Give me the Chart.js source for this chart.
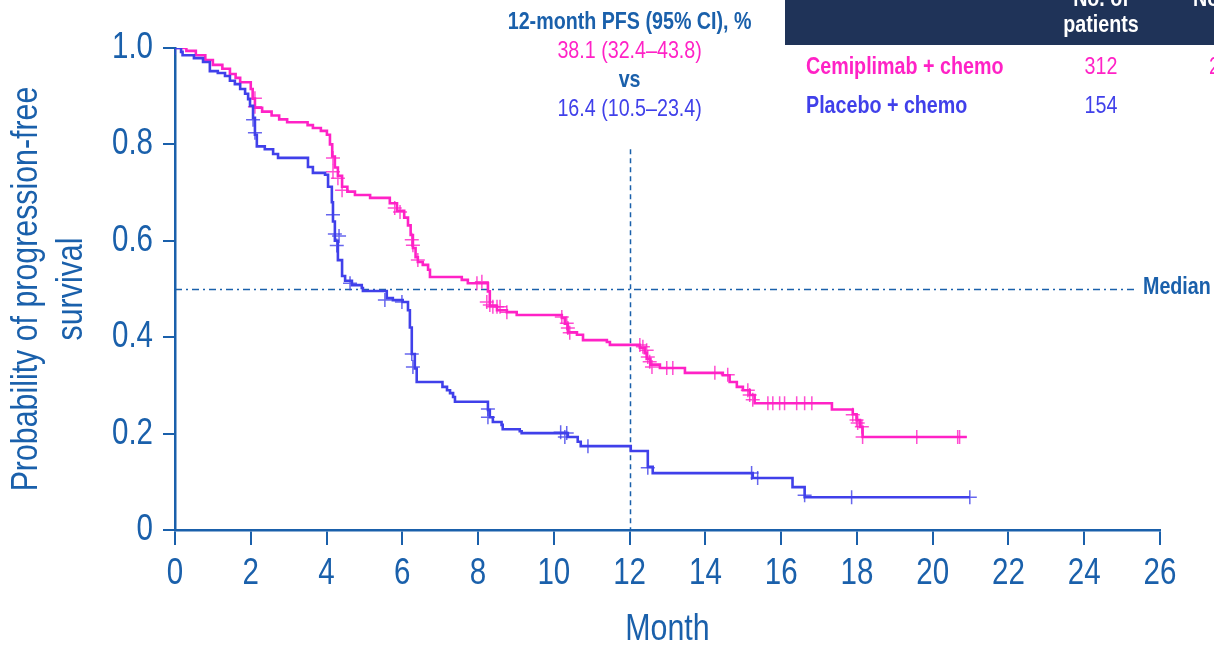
<!DOCTYPE html>
<html>
<head>
<meta charset="utf-8">
<title>Progression-free survival</title>
<script src="https://cdn.jsdelivr.net/npm/chart.js@4.4.1/dist/chart.umd.min.js"></script>
<style>
    html, body { margin: 0; padding: 0; background: #fff; }
    #wrap { width: 1214px; height: 646px; }
</style>
</head>
<body>
<div id="wrap"><canvas id="pfsChart" width="1214" height="646"></canvas></div>
<script>
// Kaplan-Meier steps: time of drop (months) and survival after the drop
const cemiTimes = [0, 0.30, 0.55, 0.80, 1.00, 1.25, 1.45, 1.60, 1.72, 2.00, 2.05, 2.11, 2.30, 2.55, 2.75, 2.96, 3.50, 3.64, 3.85, 4.01, 4.09, 4.15, 4.22, 4.30, 4.41, 4.55, 4.75, 5.15, 5.67, 5.86, 6.05, 6.15, 6.22, 6.28, 6.35, 6.41, 6.54, 6.68, 6.73, 7.57, 7.73, 8.26, 8.31, 8.50, 8.76, 9.02, 10.21, 10.29, 10.37, 10.61, 10.77, 11.40, 11.48, 12.27, 12.40, 12.45, 12.55, 12.80, 13.46, 14.46, 14.64, 14.83, 14.99, 15.17, 15.30, 17.34, 17.89, 17.99, 18.08, 18.15, 20.90];
const cemiSurv  = [1.0, 0.994, 0.985, 0.975, 0.965, 0.957, 0.946, 0.938, 0.929, 0.915, 0.895, 0.876, 0.868, 0.860, 0.852, 0.846, 0.840, 0.834, 0.828, 0.820, 0.800, 0.775, 0.752, 0.735, 0.712, 0.702, 0.695, 0.689, 0.678, 0.662, 0.648, 0.632, 0.612, 0.585, 0.566, 0.556, 0.550, 0.540, 0.525, 0.519, 0.512, 0.495, 0.465, 0.456, 0.452, 0.446, 0.440, 0.428, 0.410, 0.405, 0.394, 0.390, 0.384, 0.378, 0.367, 0.355, 0.343, 0.336, 0.326, 0.321, 0.307, 0.297, 0.290, 0.280, 0.263, 0.250, 0.240, 0.228, 0.214, 0.193, 0.193];

const placTimes = [0, 0.16, 0.20, 0.50, 0.74, 0.92, 1.13, 1.32, 1.45, 1.58, 1.72, 1.85, 1.93, 1.98, 2.06, 2.11, 2.16, 2.37, 2.59, 2.72, 3.51, 3.64, 3.96, 4.04, 4.14, 4.17, 4.22, 4.30, 4.41, 4.49, 4.67, 4.93, 4.96, 5.59, 5.75, 6.01, 6.15, 6.20, 6.25, 6.33, 6.38, 7.06, 7.18, 7.26, 7.34, 7.39, 8.26, 8.31, 8.39, 8.62, 8.65, 9.10, 9.15, 10.37, 10.63, 10.71, 12.03, 12.48, 12.61, 15.25, 16.30, 16.62, 20.98];
const placSurv  = [1.0, 0.992, 0.985, 0.979, 0.971, 0.952, 0.948, 0.942, 0.932, 0.925, 0.915, 0.905, 0.894, 0.880, 0.855, 0.820, 0.796, 0.790, 0.780, 0.772, 0.753, 0.741, 0.737, 0.712, 0.680, 0.640, 0.600, 0.560, 0.527, 0.517, 0.508, 0.502, 0.496, 0.481, 0.477, 0.473, 0.456, 0.420, 0.365, 0.335, 0.307, 0.297, 0.290, 0.284, 0.276, 0.266, 0.249, 0.234, 0.224, 0.218, 0.209, 0.205, 0.201, 0.193, 0.183, 0.174, 0.164, 0.131, 0.118, 0.108, 0.089, 0.068, 0.068];

// censor marks
const cemiCensorT = [2.11, 2.11, 4.17, 4.17, 4.30, 4.41, 5.80, 5.94, 6.25, 6.28, 6.41, 7.97, 8.10, 8.23, 8.31, 8.39, 8.50, 8.58, 8.76, 10.21, 10.34, 10.37, 10.42, 12.27, 12.35, 12.45, 12.48, 12.53, 12.59, 12.98, 13.14, 14.25, 14.59, 15.12, 15.17, 15.25, 15.65, 15.78, 15.96, 16.09, 16.41, 16.62, 16.81, 17.89, 17.99, 18.02, 18.13, 18.15, 19.58, 20.66, 20.71];
const cemiCensorS = [0.896, 0.878, 0.772, 0.743, 0.730, 0.705, 0.668, 0.660, 0.602, 0.591, 0.560, 0.512, 0.515, 0.473, 0.467, 0.463, 0.463, 0.463, 0.452, 0.442, 0.429, 0.419, 0.409, 0.384, 0.380, 0.373, 0.359, 0.349, 0.338, 0.336, 0.336, 0.326, 0.322, 0.290, 0.280, 0.270, 0.263, 0.263, 0.263, 0.263, 0.263, 0.263, 0.263, 0.239, 0.228, 0.222, 0.214, 0.193, 0.193, 0.193, 0.193];

const placCensorT = [0, 2.06, 2.11, 4.17, 4.22, 4.33, 4.27, 4.62, 5.54, 5.99, 6.25, 6.28, 8.26, 8.26, 10.18, 10.34, 10.29, 10.90, 12.48, 15.22, 15.38, 16.62, 17.86, 20.98];
const placCensorS = [1.0, 0.851, 0.824, 0.654, 0.614, 0.610, 0.590, 0.512, 0.477, 0.473, 0.365, 0.338, 0.251, 0.234, 0.203, 0.201, 0.193, 0.174, 0.129, 0.118, 0.108, 0.072, 0.068, 0.068];

const xTickStep = 2;
const yTickStep = 0.2;
const landmarkMonth = 12;
const landmarkTop = 0.79;
const medianLevel = 0.5;

const pfsHeader = '12-month PFS (95% CI), %';
const cemiPfs = '38.1 (32.4\u201343.8)';
const placPfs = '16.4 (10.5\u201323.4)';
const armNames = ['Cemiplimab + chemo', 'Placebo + chemo'];
const armPatients = ['312', '154'];

const FONT = "'Liberation Sans', Arial, sans-serif";
const AXIS_BLUE = '#1a60ab';
const PINK = '#ff22c6';
const PURPLE = '#4040ea';
const NAVY = '#1f3358';
// the original uses a narrow face; squeeze the regular one horizontally
const NARROW = 0.82;

const toPoints = (xs, ys) => xs.map((t, i) => ({ x: t, y: ys[i] }));

const referenceLines = {
    id: 'referenceLines',
    beforeDatasetsDraw(chart) {
        const { ctx, scales: { x, y } } = chart;
        ctx.save();
        ctx.strokeStyle = AXIS_BLUE;

        // median line, dash-dot
        const my = Math.round(y.getPixelForValue(medianLevel)) + 0.5;
        ctx.lineWidth = 1.4;
        ctx.setLineDash([7, 4, 2, 4]);
        ctx.beginPath();
        ctx.moveTo(x.left, my);
        ctx.lineTo(chart.width - 78, my);
        ctx.stroke();

        // 12-month landmark
        const lx = Math.round(x.getPixelForValue(landmarkMonth)) + 0.5;
        ctx.lineWidth = 1.5;
        ctx.setLineDash([5, 4]);
        ctx.beginPath();
        ctx.moveTo(lx, y.getPixelForValue(landmarkTop));
        ctx.lineTo(lx, y.bottom);
        ctx.stroke();
        ctx.restore();
    }
};

const annotations = {
    id: 'annotations',
    afterDraw(chart) {
        const { ctx, scales: { x, y } } = chart;
        const cx = x.getPixelForValue(landmarkMonth);
        ctx.save();
        ctx.textBaseline = 'middle';

        // 12-month PFS block
        ctx.textAlign = 'center';
        ctx.font = `bold 24px ${FONT}`;
        ctx.fillStyle = AXIS_BLUE;
        ctx.fillText(pfsHeader, cx, 22);
        ctx.font = `24px ${FONT}`;
        ctx.fillStyle = PINK;
        ctx.fillText(cemiPfs, cx, 51);
        ctx.font = `bold 24px ${FONT}`;
        ctx.fillStyle = AXIS_BLUE;
        ctx.fillText('vs', cx, 80);
        ctx.font = `24px ${FONT}`;
        ctx.fillStyle = PURPLE;
        ctx.fillText(placPfs, cx, 109);

        // median label
        ctx.textAlign = 'left';
        ctx.font = `bold 24px ${FONT}`;
        ctx.fillStyle = AXIS_BLUE;
        ctx.fillText('Median', 1143, y.getPixelForValue(medianLevel) - 2);

        // patients table
        ctx.fillStyle = NAVY;
        ctx.fillRect(785, 0, chart.width - 785, 45);
        ctx.fillStyle = '#ffffff';
        ctx.textAlign = 'center';
        ctx.fillText('No. of', 1101, -1);
        ctx.fillText('patients', 1101, 25);
        ctx.textAlign = 'left';
        ctx.fillText('No. of', 1193, -1);

        ctx.fillStyle = PINK;
        ctx.fillText(armNames[0], 806, 67);
        ctx.fillStyle = PURPLE;
        ctx.fillText(armNames[1], 806, 106);

        ctx.font = `24px ${FONT}`;
        ctx.textAlign = 'center';
        ctx.fillStyle = PINK;
        ctx.fillText(armPatients[0], 1101, 67);
        ctx.fillStyle = PURPLE;
        ctx.fillText(armPatients[1], 1101, 106);
        ctx.textAlign = 'left';
        ctx.fillStyle = PINK;
        ctx.fillText('2', 1209, 67);
        ctx.restore();
    }
};

const ctx = document.getElementById('pfsChart').getContext('2d');

const baseFillText = CanvasRenderingContext2D.prototype.fillText;
ctx.fillText = function (text, px, py) {
    this.save();
    this.translate(px, py);
    this.scale(NARROW, 1);
    baseFillText.call(this, text, 0, 0);
    this.restore();
};

new Chart(ctx, {
    type: 'line',
    data: {
        datasets: [
            {
                type: 'scatter',
                label: 'Placebo censored',
                data: toPoints(placCensorT, placCensorS),
                pointStyle: 'cross',
                pointRadius: 7,
                borderColor: 'rgba(64, 64, 234, 0.8)',
                borderWidth: 1.5,
                showLine: false
            },
            {
                label: armNames[1],
                data: toPoints(placTimes, placSurv),
                stepped: true,
                borderColor: PURPLE,
                borderWidth: 2.6,
                pointRadius: 0,
                fill: false
            },
            {
                type: 'scatter',
                label: 'Cemiplimab censored',
                data: toPoints(cemiCensorT, cemiCensorS),
                pointStyle: 'cross',
                pointRadius: 7,
                borderColor: 'rgba(255, 34, 198, 0.8)',
                borderWidth: 1.5,
                showLine: false
            },
            {
                label: armNames[0],
                data: toPoints(cemiTimes, cemiSurv),
                stepped: true,
                borderColor: PINK,
                borderWidth: 2.6,
                pointRadius: 0,
                fill: false
            }
        ]
    },
    options: {
        responsive: false,
        animation: false,
        layout: {
            padding: { top: 48, right: 54, left: 0, bottom: 0 }
        },
        plugins: {
            legend: { display: false },
            tooltip: { enabled: false }
        },
        scales: {
            x: {
                type: 'linear',
                min: 0,
                max: 26,
                afterFit: (scale) => { scale.height = 116; },
                border: { display: true, color: AXIS_BLUE, width: 2.5 },
                grid: { drawOnChartArea: false, drawTicks: true, tickLength: 15, color: AXIS_BLUE, lineWidth: 2 },
                ticks: {
                    stepSize: xTickStep,
                    color: AXIS_BLUE,
                    padding: 7,
                    maxRotation: 0,
                    autoSkip: false,
                    font: { family: FONT, size: 36 }
                },
                title: {
                    display: true,
                    text: 'Month',
                    color: AXIS_BLUE,
                    padding: 0,
                    font: { family: FONT, size: 37, lineHeight: 0.9 }
                }
            },
            y: {
                min: 0,
                max: 1,
                afterFit: (scale) => { scale.width = 175; },
                border: { display: true, color: AXIS_BLUE, width: 2.5 },
                grid: { drawOnChartArea: false, drawTicks: true, tickLength: 12, color: AXIS_BLUE, lineWidth: 2 },
                ticks: {
                    stepSize: yTickStep,
                    color: AXIS_BLUE,
                    padding: 10,
                    font: { family: FONT, size: 36 },
                    callback: (value) => value === 0 ? '0' : value.toFixed(1)
                },
                title: {
                    display: true,
                    text: ['Probability of progression-free', 'survival'],
                    color: AXIS_BLUE,
                    padding: { top: 5, bottom: 0 },
                    font: { family: FONT, size: 37 }
                }
            }
        }
    },
    plugins: [referenceLines, annotations]
});
</script>
</body>
</html>
